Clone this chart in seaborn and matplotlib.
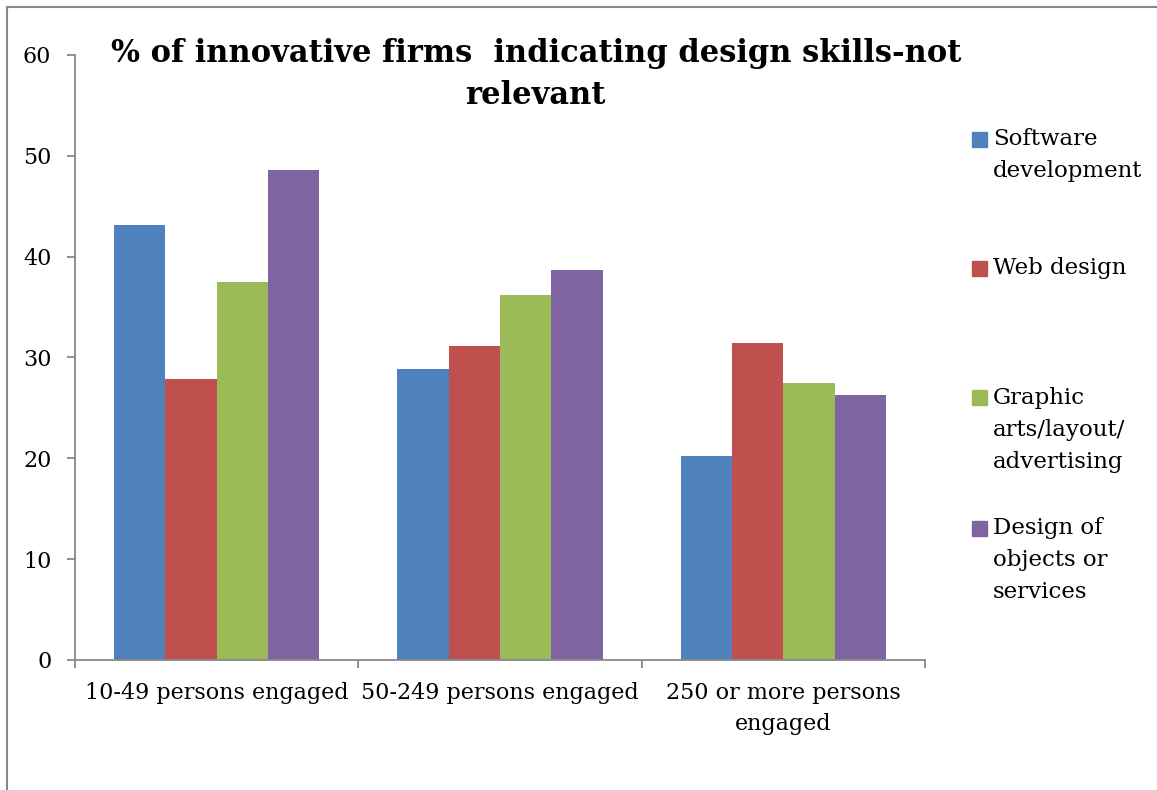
import pandas as pd
import matplotlib.pyplot as plt
import seaborn as sns
from matplotlib.lines import Line2D
from matplotlib.patches import Rectangle

# firm size groups and design skill series
sizes = ['10-49 persons engaged', '50-249 persons engaged', '250 or more persons\nengaged']
skills = ['Software\ndevelopment', 'Web design', 'Graphic\narts/layout/\nadvertising',
          'Design of\nobjects or\nservices']
software = [43.1, 28.9, 20.2]
web = [27.9, 31.1, 31.4]
graphic = [37.5, 36.2, 27.5]
objects = [48.6, 38.7, 26.3]
colors = ['#4F81BD', '#C0504D', '#9BBB59', '#8064A2']

rows = []
for skill, vals in zip(skills, [software, web, graphic, objects]):
    for size, v in zip(sizes, vals):
        rows.append({'size': size, 'skill': skill, 'pct': v})
df = pd.DataFrame(rows)

sns.set_style('white')
plt.rcParams['font.family'] = ['DejaVu Serif']
plt.rcParams['text.color'] = 'black'
plt.rcParams['xtick.color'] = '#888888'
plt.rcParams['ytick.color'] = '#888888'
plt.rcParams['xtick.labelcolor'] = 'black'
plt.rcParams['ytick.labelcolor'] = 'black'

fig = plt.figure(figsize=(11.57, 7.9), dpi=100)
ax = fig.add_axes([0.0648, 0.1646, 0.7347, 0.7658])

sns.barplot(data=df, x='size', y='pct', hue='skill', order=sizes, hue_order=skills,
            palette=colors, saturation=1, width=0.725, linewidth=0, legend=False, ax=ax)

ax.set_xlim(-0.5, 2.5)
ax.set_ylim(0, 60)
ax.set_yticks(range(0, 61, 10))
ax.set_xlabel('')
ax.set_ylabel('')
for s in ['top', 'right']:
    ax.spines[s].set_visible(False)
for s in ['left', 'bottom']:
    ax.spines[s].set_color('#888888')
    ax.spines[s].set_linewidth(1.3)
ax.tick_params(axis='y', left=True, length=6, width=1.3, pad=11, labelsize=16)
ax.tick_params(axis='x', which='major', bottom=True, length=0, pad=16, labelsize=16)
for lab in ax.get_xticklabels():
    lab.set_linespacing(1.5)
ax.set_xticks([-0.5, 0.5, 1.5, 2.5], minor=True)
ax.tick_params(axis='x', which='minor', bottom=True, length=6, width=1.3)

fig.text(0.463, 0.906, '% of innovative firms  indicating design skills-not\nrelevant',
         ha='center', va='center', fontsize=22, fontweight='bold', linespacing=1.45)

# legend drawn by hand to keep Excel-like top alignment
leg_y = [139, 268, 398, 528]
for skill, col, y in zip(skills, colors, leg_y):
    fig.patches.append(Rectangle((972 / 1157, 1 - (y + 7.5) / 790), 15 / 1157, 15 / 790,
                                 transform=fig.transFigure, color=col))
    fig.text(993 / 1157, 1 - (y - 11) / 790, skill, ha='left', va='top',
             fontsize=16.5, linespacing=1.6)

# chart-area frame (left and top edges visible)
fig.add_artist(Line2D([7 / 1157, 7 / 1157], [0, 1 - 7 / 790], transform=fig.transFigure,
                      color='#888888', linewidth=1.5))
fig.add_artist(Line2D([7 / 1157, 1], [1 - 7 / 790, 1 - 7 / 790], transform=fig.transFigure,
                      color='#888888', linewidth=1.5))

fig.savefig('out.png', dpi=100)
